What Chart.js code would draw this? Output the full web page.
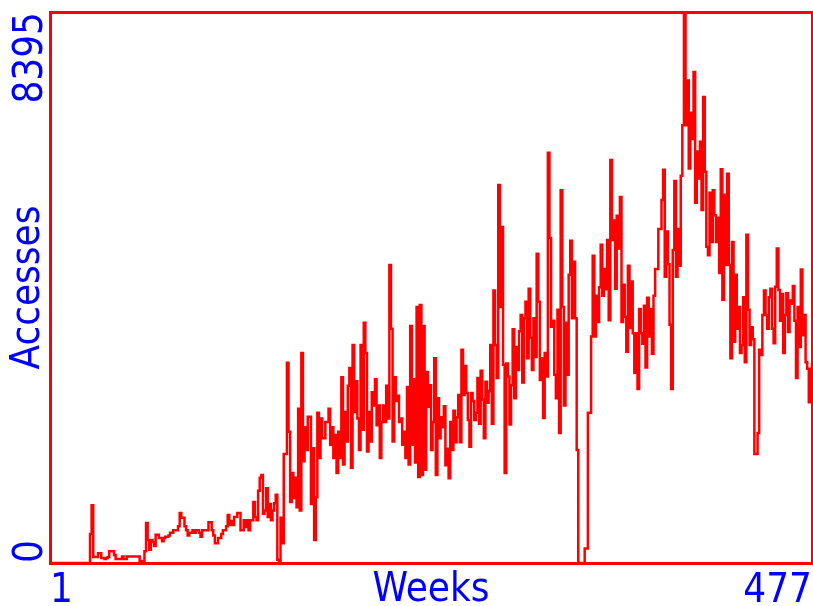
<!DOCTYPE html>
<html>
<head>
<meta charset="utf-8">
<script src="https://cdn.jsdelivr.net/npm/chart.js@4/dist/chart.umd.min.js"></script>
<style>
  html, body { margin: 0; padding: 0; background: #fff; }
  canvas { display: block; }
</style>
</head>
<body>
<canvas id="myChart" width="813" height="606"></canvas>
<script>
// weekly access counts (477 weeks)
const weeks = Array.from({ length: 477 }, (_, i) => String(i + 1));
const accesses = [
  0, 0, 0, 0, 0, 0, 0, 0, 0, 0, 0, 0, 0, 0, 0, 0, 0, 0, 0, 0, 0, 0, 0, 0, 0,
  440, 880, 90, 90, 90, 150, 150, 75, 75, 60, 75, 90, 180, 180, 180, 120, 60, 60, 60, 60, 100, 60, 60, 100, 100,
  100, 100, 100, 100, 100, 100, 30, 30, 30, 180, 610, 350, 200, 350, 320, 260, 430, 430, 380, 380, 330, 380, 400, 400, 420,
  460, 460, 500, 500, 500, 560, 760, 690, 690, 560, 500, 420, 460, 460, 500, 460, 500, 500, 460, 400, 500, 500, 500, 500, 620,
  620, 500, 420, 300, 300, 380, 380, 440, 500, 500, 560, 730, 580, 640, 580, 700, 700, 760, 760, 500, 500, 650, 550, 650, 500,
  650, 650, 930, 700, 650, 1100, 1300, 1340, 750, 800, 1140, 700, 900, 650, 800, 910, 1040, 50, 0, 690, 300, 1660, 1660, 3050, 2000,
  930, 1370, 990, 1300, 850, 2350, 800, 3200, 1550, 2070, 1720, 2230, 2230, 900, 1750, 350, 1000, 2290, 1600, 2200, 1900, 1900, 2150, 2150, 2350,
  1800, 2070, 1600, 1950, 1370, 2000, 1600, 2830, 1500, 2300, 1850, 2700, 2970, 1450, 3320, 2300, 2770, 2200, 1720, 3320, 2030, 3660, 3200, 1700, 2300,
  1850, 2600, 2400, 2800, 2100, 2400, 1600, 2150, 2400, 2150, 2700, 2200, 4540, 3570, 1850, 2830, 2470, 2550, 2150, 2200, 1800, 2000, 1600, 2680, 1500,
  3610, 1800, 2800, 1530, 3900, 1310, 3930, 1340, 3610, 1420, 2910, 2380, 2710, 1720, 2150, 3120, 1340, 2510, 1900, 2220, 2070, 2390, 1490, 1740, 1290,
  2150, 1720, 2320, 1840, 2220, 2560, 1840, 3250, 2560, 3000, 2590, 2180, 1770, 2590, 2470, 2180, 2290, 2820, 2120, 2930, 2490, 1900, 2760, 2440, 2620,
  3320, 2120, 4150, 3320, 2820, 5760, 3900, 5120, 3020, 1370, 3040, 2840, 2110, 2710, 3560, 2510, 3290, 2940, 3530, 3780, 2750, 3730, 3980, 3120, 4180,
  3430, 2940, 3730, 3140, 4710, 3980, 2790, 3120, 2210, 3200, 2840, 6250, 4950, 3600, 3690, 2870, 2510, 3860, 1980, 5680, 3900, 2400, 3660, 2870, 4390,
  4910, 3730, 4590, 3730, 1720, 0, 0, 0, 0, 220, 220, 2290, 2290, 3450, 4680, 3450, 4070, 3670, 4200, 4850, 4070, 4480, 4170, 4920, 3700,
  6140, 4920, 5220, 4180, 5290, 4790, 5575, 3670, 4240, 3750, 3220, 4530, 3580, 4290, 3500, 2900, 3500, 2650, 3870, 3500, 3340, 3920, 2980, 4040, 3450,
  3870, 3190, 4070, 4480, 4480, 5090, 5090, 5530, 5990, 4360, 5050, 4550, 3630, 2650, 4770, 5820, 4360, 5090, 4530, 5900, 6670, 8395, 6670, 7350, 6010,
  6860, 6460, 7480, 5490, 6270, 5860, 6420, 5380, 7100, 5960, 4820, 4690, 5640, 4890, 5680, 5300, 4890, 5260, 4420, 6000, 4010, 5610, 4540, 5930, 4540,
  3120, 4890, 3370, 4390, 3570, 3900, 3200, 3320, 4050, 3060, 5000, 3860, 3320, 3590, 3410, 1660, 1660, 1980, 3250, 3170, 3780, 4150, 3780, 3570, 4050,
  4180, 3570, 3350, 4210, 4790, 4160, 3690, 4100, 3200, 3780, 4110, 3520, 4000, 3950, 4220, 3690, 2820, 3900, 3290, 4470, 3470, 3780, 3060, 2960, 2450,
  2960, 3050
];
const xTickLabels = ['1', '477'];
const yTicks = [0, 8395];

const red = '#ff0000';
const blue = '#0000ff';
const font = {
  family: "'Liberation Sans Narrow', 'DejaVu Sans Condensed', 'Liberation Sans', sans-serif",
  size: 40,
  lineHeight: 1
};
const noGrid = { display: false, drawTicks: false };

const ctx = document.getElementById('myChart').getContext('2d');

new Chart(ctx, {
  type: 'line',
  data: {
    labels: weeks,
    datasets: [{
      data: accesses,
      borderColor: red,
      borderWidth: 2.5,
      pointRadius: 0,
      stepped: true,
      fill: false
    }]
  },
  options: {
    responsive: false,
    animation: false,
    layout: { padding: { top: 12, right: 1, left: 0, bottom: 0 } },
    plugins: { legend: { display: false }, tooltip: { enabled: false } },
    scales: {
      x: {
        type: 'category',
        grid: noGrid,
        border: { color: red, width: 3 },
        ticks: {
          autoSkip: false,
          minRotation: 0,
          maxRotation: 0,
          align: 'inner',
          padding: 9,
          color: blue,
          font,
          callback: (v, i) => i === 0 ? xTickLabels[0] : (i === weeks.length - 1 ? xTickLabels[1] : '')
        },
        title: { display: true, text: 'Weeks', color: blue, font, padding: { top: 0, bottom: -5 } },
        afterFit: s => { s.height = 43; s.paddingLeft = 0; s.paddingRight = 0; }
      },
      y: {
        type: 'linear',
        position: 'left',
        weight: 1,
        min: 0,
        max: 8395,
        afterBuildTicks: s => { s.ticks = [{ value: yTicks[1] }]; },
        grid: noGrid,
        border: { color: red, width: 3 },
        ticks: { minRotation: 90, maxRotation: 90, padding: 18, color: blue, font, callback: v => String(v) },
        title: { display: true, text: 'Accesses', color: blue, font, padding: { top: 9, bottom: 0 } },
        afterFit: s => { s.width = 50; s.paddingTop = 0; s.paddingBottom = 0; }
      },
      // second left axis only carries the "0" label, mirrored so it sits above its tick
      y0: {
        type: 'linear',
        position: 'left',
        weight: 0,
        min: 0,
        max: 8395,
        afterBuildTicks: s => { s.ticks = [{ value: yTicks[0] }]; },
        grid: noGrid,
        border: { display: false },
        ticks: { mirror: true, minRotation: 90, maxRotation: 90, padding: -18, color: blue, font, callback: v => String(v) },
        afterFit: s => { s.width = 0; s.paddingTop = 0; s.paddingBottom = 0; }
      },
      x2: {
        type: 'linear',
        position: 'top',
        min: 0,
        max: 1,
        grid: noGrid,
        ticks: { display: false },
        border: { color: red, width: 3 },
        afterFit: s => { s.height = 0; s.paddingLeft = 0; s.paddingRight = 0; }
      },
      y2: {
        type: 'linear',
        position: 'right',
        min: 0,
        max: 1,
        grid: noGrid,
        ticks: { display: false },
        border: { color: red, width: 3 },
        afterFit: s => { s.width = 0; s.paddingTop = 0; s.paddingBottom = 0; }
      }
    }
  }
});
</script>
</body>
</html>
